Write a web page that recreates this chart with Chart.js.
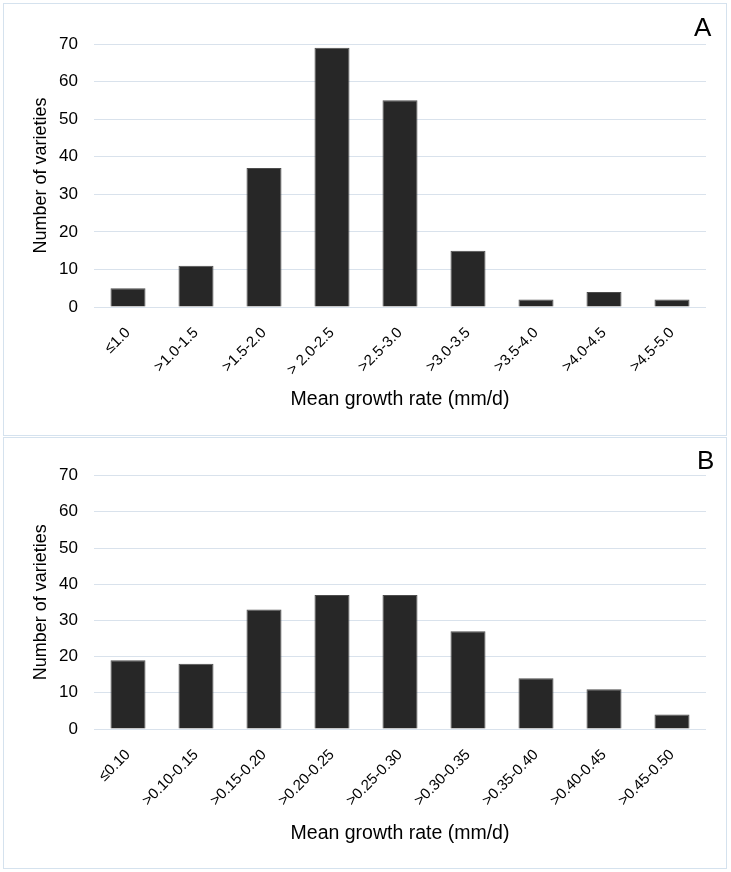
<!DOCTYPE html>
<html><head><meta charset="utf-8">
<script src="https://cdn.jsdelivr.net/npm/chart.js@4"></script>
<style>
body{margin:0;background:#fff;width:731px;height:872px;position:relative;overflow:hidden;font-family:"Liberation Sans",Arial,sans-serif}
.panel{position:absolute;left:3px;width:724px;box-sizing:border-box;border:1px solid #d5e2ee}
.wrap{position:absolute;left:0;width:731px;height:436px}
.letter{position:absolute;font-size:26px;line-height:1;color:#000}
</style></head><body>
<div class="panel" style="top:3px;height:433px"></div>
<div class="panel" style="top:437px;height:432px"></div>
<div class="wrap" style="top:0"><canvas id="cA"></canvas></div>
<div class="wrap" style="top:436px"><canvas id="cB"></canvas></div>
<div class="letter" style="left:694px;top:14px">A</div>
<div class="letter" style="left:697px;top:447px">B</div>
<script>
const categoriesA = ["≤1.0", ">1.0-1.5", ">1.5-2.0", "> 2.0-2.5", ">2.5-3.0", ">3.0-3.5", ">3.5-4.0", ">4.0-4.5", ">4.5-5.0"];
const valuesA = [5, 11, 37, 69, 55, 15, 2, 4, 2];
const categoriesB = ["≤0.10", ">0.10-0.15", ">0.15-0.20", ">0.20-0.25", ">0.25-0.30", ">0.30-0.35", ">0.35-0.40", ">0.40-0.45", ">0.45-0.50"];
const valuesB = [19, 18, 33, 37, 37, 27, 14, 11, 4];
const yTicks = [0, 10, 20, 30, 40, 50, 60, 70];
const xTitle = "Mean growth rate (mm/d)";
const yTitle = "Number of varieties";
const family = "'Liberation Sans', Arial, sans-serif";

function makeChart(id, labels, values, cfg) {
  new Chart(document.getElementById(id), {
    type: 'bar',
    data: { labels: labels, datasets: [{ data: values, backgroundColor: '#272727', borderColor: '#4d4d4d', borderWidth: 1, barPercentage: 0.515, categoryPercentage: 1 }] },
    options: {
      responsive: true, maintainAspectRatio: false, animation: false,
      layout: { padding: { left: 0, right: 25, top: cfg.top, bottom: cfg.bottom } },
      plugins: { legend: { display: false }, tooltip: { enabled: false } },
      scales: {
        x: {
          grid: { display: false, drawTicks: false }, border: { display: false },
          ticks: { color: '#000', font: { size: 15, family: family }, minRotation: 45, maxRotation: 45, padding: cfg.xpad, autoSkip: false },
          title: { display: true, text: xTitle, color: '#000', font: { size: 19.5, family: family }, padding: { top: 0, bottom: 9 } },
          afterFit(s) { s.height = cfg.xh; }
        },
        y: {
          min: yTicks[0], max: yTicks[yTicks.length - 1],
          afterBuildTicks(s) { s.ticks = yTicks.map(v => ({ value: v })); },
          ticks: { color: '#000', font: { size: 17, family: family }, padding: 16 },
          grid: { color: '#d9e2ec', drawTicks: false }, border: { display: false },
          title: { display: true, text: yTitle, color: '#000', font: { size: 18, family: family }, padding: { top: 30, bottom: 0 } },
          afterFit(s) { s.width = 94; }
        }
      }
    }
  });
}
makeChart('cA', categoriesA, valuesA, { top: 44, bottom: 16, xh: 113, xpad: 17 });
makeChart('cB', categoriesB, valuesB, { top: 39.6, bottom: 18, xh: 125, xpad: 17 });
</script>
</body></html>
